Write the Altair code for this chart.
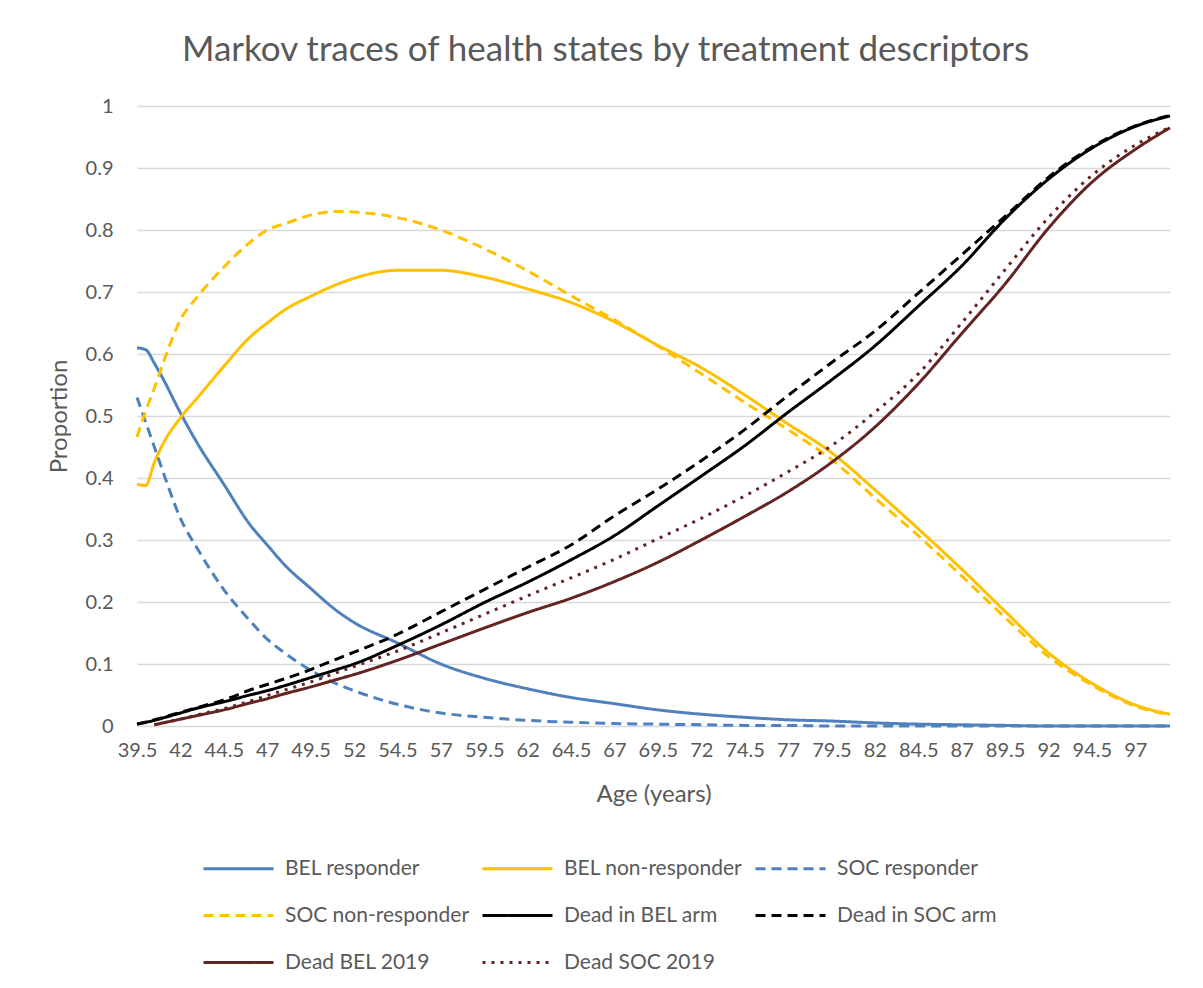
import altair as alt
import pandas as pd

ages = [39.5, 40, 40.5, 41, 42, 43, 44.5, 46, 47, 48, 49.5, 51, 52, 54.5, 57, 59.5,
        62, 64.5, 67, 69.5, 72, 74.5, 77, 79.5, 82, 84.5, 87, 89.5, 92, 94.5, 97, 99]

bel_responder = [0.61, 0.607, 0.585, 0.56, 0.505, 0.455, 0.39, 0.325, 0.292, 0.26, 0.222, 0.186,
                 0.167, 0.134, 0.10, 0.077, 0.06, 0.046, 0.036, 0.026, 0.019, 0.014, 0.01, 0.008,
                 0.005, 0.003, 0.002, 0.001, 0.0, 0.0, 0.0, 0.0]
bel_nonresponder = [0.39, 0.388, 0.425, 0.455, 0.497, 0.53, 0.58, 0.627, 0.65, 0.671, 0.693, 0.712,
                    0.722, 0.735, 0.735, 0.724, 0.705, 0.683, 0.652, 0.614, 0.578, 0.534, 0.487,
                    0.441, 0.381, 0.318, 0.253, 0.185, 0.118, 0.069, 0.034, 0.019]
soc_responder = [0.53, 0.49, 0.45, 0.41, 0.335, 0.285, 0.22, 0.17, 0.14, 0.118, 0.09, 0.068, 0.057,
                 0.035, 0.021, 0.014, 0.009, 0.006, 0.004, 0.003, 0.002, 0.001, 0.001, 0.0, 0.0,
                 0.0, 0.0, 0.0, 0.0, 0.0, 0.0, 0.0]
soc_nonresponder = [0.466, 0.508, 0.545, 0.585, 0.655, 0.693, 0.74, 0.78, 0.80, 0.81, 0.824, 0.83,
                    0.829, 0.82, 0.80, 0.77, 0.734, 0.694, 0.655, 0.613, 0.568, 0.522, 0.478,
                    0.43, 0.368, 0.307, 0.242, 0.175, 0.112, 0.066, 0.032, 0.018]
dead_bel_arm = [0.003, 0.006, 0.009, 0.013, 0.021, 0.029, 0.039, 0.05, 0.057, 0.065, 0.078, 0.091,
                0.10, 0.13, 0.163, 0.199, 0.232, 0.268, 0.307, 0.355, 0.403, 0.452, 0.506, 0.558,
                0.613, 0.677, 0.742, 0.818, 0.882, 0.932, 0.967, 0.984]
dead_soc_arm = [0.003, 0.006, 0.01, 0.014, 0.022, 0.03, 0.042, 0.058, 0.067, 0.076, 0.091, 0.108,
                0.119, 0.148, 0.184, 0.22, 0.256, 0.292, 0.339, 0.382, 0.428, 0.478, 0.533, 0.586,
                0.637, 0.698, 0.76, 0.822, 0.885, 0.934, 0.968, 0.985]
dead_bel_2019 = [None, None, 0.002, 0.005, 0.011, 0.017, 0.026, 0.037, 0.044, 0.052, 0.063, 0.075,
                 0.083, 0.106, 0.132, 0.158, 0.183, 0.206, 0.233, 0.264, 0.30, 0.338, 0.378, 0.425,
                 0.482, 0.552, 0.633, 0.713, 0.803, 0.877, 0.93, 0.965]
dead_soc_2019 = [None, None, 0.002, 0.005, 0.011, 0.018, 0.028, 0.04, 0.049, 0.058, 0.071, 0.086,
                 0.096, 0.121, 0.15, 0.18, 0.21, 0.239, 0.269, 0.302, 0.335, 0.371, 0.41, 0.452,
                 0.506, 0.568, 0.65, 0.736, 0.82, 0.888, 0.937, 0.966]

series_names = ["BEL responder", "BEL non-responder", "SOC responder", "SOC non-responder",
                "Dead in BEL arm", "Dead in SOC arm", "Dead BEL 2019", "Dead SOC 2019"]
series_values = [bel_responder, bel_nonresponder, soc_responder, soc_nonresponder,
                 dead_bel_arm, dead_soc_arm, dead_bel_2019, dead_soc_2019]
series_colors = ["#4F81BD", "#FFC000", "#4F81BD", "#FFC000", "#000000", "#000000", "#632523", "#632523"]
series_dashes = [[1, 0], [1, 0], [10, 6], [10, 6], [1, 0], [10, 6], [1, 0], [3, 6]]

x_ticks = [39.5, 42, 44.5, 47, 49.5, 52, 54.5, 57, 59.5, 62, 64.5, 67, 69.5, 72, 74.5, 77,
           79.5, 82, 84.5, 87, 89.5, 92, 94.5, 97]
y_ticks = [0, 0.1, 0.2, 0.3, 0.4, 0.5, 0.6, 0.7, 0.8, 0.9, 1]

rows = []
for order, (name, vals) in enumerate(zip(series_names, series_values)):
    for a, v in zip(ages, vals):
        if v is not None:
            rows.append({"Age": a, "Proportion": v, "Series": name, "ord": order})
df = pd.DataFrame(rows)

FONT = "Lato"
GREY = "#595959"

chart = alt.Chart(df).mark_line(strokeWidth=3, interpolate="monotone").encode(
    x=alt.X("Age:Q", title="Age (years)",
            scale=alt.Scale(domain=[39.5, 99], nice=False, zero=False),
            axis=alt.Axis(values=x_ticks, labelExpr="'' + datum.value", grid=False, ticks=False,
                          domain=False, labelPadding=14, titlePadding=22, labelFlush=False)),
    y=alt.Y("Proportion:Q", title="Proportion",
            scale=alt.Scale(domain=[0, 1], nice=False),
            axis=alt.Axis(values=y_ticks, labelExpr="'' + datum.value", grid=True, ticks=False,
                          domain=False, labelPadding=24, titlePadding=14)),
    color=alt.Color("Series:N", title=None,
                    scale=alt.Scale(domain=series_names, range=series_colors),
                    legend=alt.Legend(orient="none", legendX=65, legendY=726, columns=3,
                                      direction="horizontal",
                                      symbolType="stroke", symbolSize=4900, symbolStrokeWidth=3,
                                      labelFont=FONT, labelFontSize=21, labelColor=GREY,
                                      labelLimit=400, columnPadding=6, rowPadding=-6.5,
                                      labelOffset=10)),
    strokeDash=alt.StrokeDash("Series:N", title=None,
                              scale=alt.Scale(domain=series_names, range=series_dashes)),
    detail="ord:O",
).properties(
    width=1033,
    height=620,
    title=alt.TitleParams("Markov traces of health states by treatment descriptors",
                          font=FONT, fontSize=35, fontWeight="normal", color=GREY,
                          anchor="middle", dx=-48, offset=28),
    autosize=alt.AutoSizeParams(type="none"),
    padding={"left": 129, "top": 98, "right": 20, "bottom": 262},
).configure_axis(
    labelFont=FONT, labelFontSize=20, labelColor=GREY,
    titleFont=FONT, titleFontSize=24, titleColor=GREY, titleFontWeight="normal",
    gridColor="#D9D9D9", gridWidth=1.5,
).configure_view(stroke=None)

chart.save("out.html", embed_options={"renderer": "svg", "actions": False})
